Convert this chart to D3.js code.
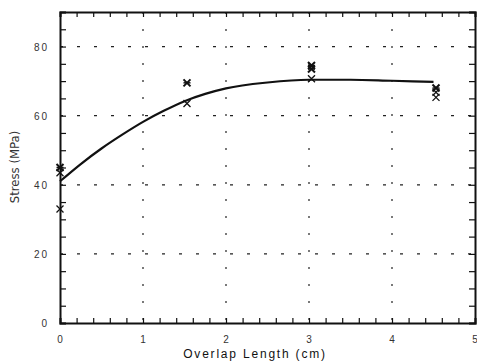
<!DOCTYPE html>
<html>
<head>
<meta charset="utf-8">
<script src="https://cdn.jsdelivr.net/npm/d3@7"></script>
<style>
  body { margin: 0; background: #fff; }
  svg { display: block; }
  text { font-family: "Liberation Sans", Arial, sans-serif; fill: #111; }
</style>
</head>
<body>
<div id="chart"></div>
<script>
// data
var pointX    = [0, 0, 0, 1.53, 1.53, 3.03, 3.03, 3.03, 4.53, 4.53, 4.53];
var pointY    = [45, 43.5, 33, 69.5, 63.5, 74.5, 73.5, 70.7, 68, 66.8, 65.3];
var pointKind = ['star', 'x', 'x', 'star', 'x', 'star', 'star', 'x', 'star', 'x', 'x'];

var fitX = [0, 0.25, 0.5, 0.75, 1, 1.25, 1.5, 1.75, 2, 2.5, 3, 3.5, 4, 4.5];
var fitY = [41, 46, 50.5, 54.5, 58.2, 61.4, 64.2, 66.3, 67.9, 69.6, 70.4, 70.4, 70.1, 69.8];

var xTicks = [0, 1, 2, 3, 4, 5];
var yTicks = [0, 20, 40, 60, 80];

// set-up
var W = 477, H = 362;
var margin = {left: 60, top: 12, right: 2, bottom: 39};
var iw = W - margin.left - margin.right,
    ih = H - margin.top - margin.bottom;

var svg = d3.select("#chart").append("svg")
  .attr("width", W).attr("height", H);
var g = svg.append("g")
  .attr("transform", "translate(" + margin.left + "," + margin.top + ")");

var x = d3.scaleLinear().domain([0, 5]).range([0, iw]);
var y = d3.scaleLinear().domain([0, 90]).range([ih, 0]);

// dotted grid
g.selectAll(".vgrid").data(xTicks.slice(1, 5)).enter().append("line")
  .attr("x1", d => x(d)).attr("x2", d => x(d))
  .attr("y1", 0).attr("y2", ih)
  .attr("stroke", "#222").attr("stroke-width", 1.2)
  .attr("stroke-dasharray", "2,15");
g.selectAll(".hgrid").data(yTicks.slice(1)).enter().append("line")
  .attr("x1", 0).attr("x2", iw)
  .attr("y1", d => y(d)).attr("y2", d => y(d))
  .attr("stroke", "#222").attr("stroke-width", 1.2)
  .attr("stroke-dasharray", "3,14");

// axes, ticks inward
var minorX = d3.range(0, 5.01, 0.2), minorY = d3.range(0, 90.1, 5);
var axB = d3.axisBottom(x).tickValues(minorX).tickSize(-5).tickFormat("");
var axT = d3.axisTop(x).tickValues(minorX).tickSize(-5).tickFormat("");
var axL = d3.axisLeft(y).tickValues(minorY).tickSize(-6).tickFormat("");
var axR = d3.axisRight(y).tickValues(minorY).tickSize(-6).tickFormat("");
[[axB, "translate(0," + ih + ")"], [axT, null], [axL, null], [axR, "translate(" + iw + ",0)"]]
  .forEach(function(a) {
    var sel = g.append("g").call(a[0]);
    if (a[1]) sel.attr("transform", a[1]);
    sel.select(".domain").attr("stroke", "#111").attr("stroke-width", 2);
    sel.selectAll(".tick line").attr("stroke", "#111").attr("stroke-width", 1.2);
  });

// tick labels
g.selectAll(".xl").data(xTicks).enter().append("text")
  .attr("x", d => x(d)).attr("y", ih + 20)
  .attr("text-anchor", "middle").style("font-size", "10px")
  .style("fill", "#333")
  .text(d => d);
g.selectAll(".yl").data(yTicks).enter().append("text")
  .attr("x", -11).attr("y", d => y(d) + 4)
  .attr("text-anchor", "end").style("font-size", "10px")
  .style("letter-spacing", "2px").style("fill", "#333")
  .text(d => d);

// axis titles
svg.append("text")
  .attr("transform", "translate(19," + (margin.top + 155) + ") rotate(-90)")
  .attr("text-anchor", "middle").style("font-size", "13px")
  .style("font-family", "'Liberation Sans Narrow', 'DejaVu Sans Condensed', sans-serif")
  .style("fill", "#333")
  .text("Stress (MPa)");
svg.append("text")
  .attr("x", 255).attr("y", 358)
  .attr("text-anchor", "middle").style("font-size", "12px")
  .style("letter-spacing", "1.8px")
  .text("Overlap Length (cm)");

// fitted curve
var line = d3.line().curve(d3.curveMonotoneX)
  .x(function(d, i) { return x(fitX[i]); })
  .y(function(d, i) { return y(fitY[i]); });
g.append("path").datum(fitY)
  .attr("d", line)
  .attr("fill", "none").attr("stroke", "#111").attr("stroke-width", 2.2);

// markers
var s = 3.5;
var mk = g.selectAll(".pt").data(pointX).enter().append("g")
  .attr("transform", function(d, i) { return "translate(" + x(d) + "," + y(pointY[i]) + ")"; });
mk.append("path")
  .attr("d", "M" + (-s) + "," + (-s) + "L" + s + "," + s + "M" + (-s) + "," + s + "L" + s + "," + (-s))
  .attr("stroke", "#111").attr("stroke-width", function(d, i) { return pointKind[i] === 'star' ? 2 : 1.3; });
mk.filter(function(d, i) { return pointKind[i] === 'star'; }).append("path")
  .attr("d", "M" + (-s) + ",0L" + s + ",0")
  .attr("stroke", "#111").attr("stroke-width", 1.5);
</script>
</body>
</html>
